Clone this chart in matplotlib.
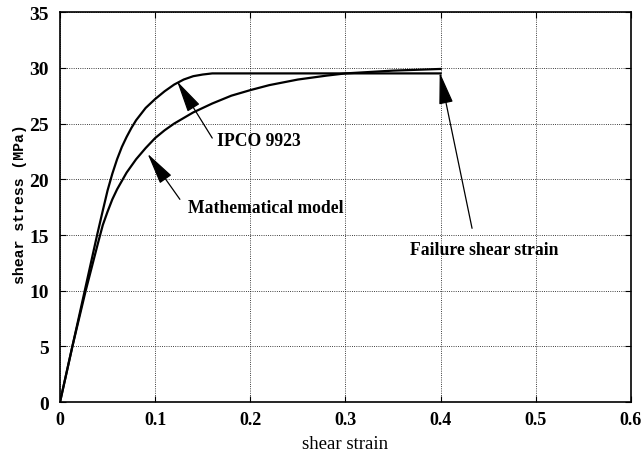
import matplotlib
matplotlib.use("Agg")
import matplotlib.pyplot as plt

# IPCO 9923 test curve
ipco_strain = [0.0, 0.013, 0.026, 0.039, 0.045, 0.05, 0.055, 0.06, 0.065, 0.07, 0.075,
               0.08, 0.09, 0.1, 0.11, 0.12, 0.13, 0.14, 0.15, 0.16, 0.2, 0.3, 0.4]
ipco_stress = [0.0, 5.0, 10.0, 15.0, 17.2, 19.0, 20.5, 21.8, 22.9, 23.8, 24.6,
               25.3, 26.4, 27.2, 27.9, 28.5, 28.95, 29.25, 29.4, 29.5, 29.5, 29.5, 29.5]

# mathematical model curve
model_strain = [0.0, 0.013, 0.027, 0.04, 0.045, 0.05, 0.055, 0.06, 0.07, 0.08, 0.09,
                0.1, 0.11, 0.12, 0.14, 0.16, 0.18, 0.2, 0.22, 0.25, 0.28, 0.3, 0.35, 0.4]
model_stress = [0.0, 5.0, 10.0, 14.3, 15.9, 17.1, 18.2, 19.1, 20.6, 21.8, 22.8,
                23.7, 24.4, 25.0, 26.0, 26.8, 27.5, 28.0, 28.45, 28.95, 29.3, 29.5, 29.75, 29.9]

xticks = [0, 0.1, 0.2, 0.3, 0.4, 0.5, 0.6]
xticklabels = ['0', '0.1', '0.2', '0.3', '0.4', '0.5', '0.6']
yticks = [0, 5, 10, 15, 20, 25, 30, 35]

fig = plt.figure(figsize=(6.43, 4.52), dpi=100)
ax = fig.add_axes([0.0933, 0.108, 0.888, 0.863])

ax.plot(ipco_strain, ipco_stress, color='black', lw=1.6)
ax.plot(model_strain, model_stress, color='black', lw=1.6)

ax.set_xlim(0, 0.6)
ax.set_ylim(0, 35)
ax.set_xticks(xticks)
ax.set_yticks(yticks)
ax.set_xticklabels(xticklabels)
ax.grid(True, color='black', linestyle=':', linewidth=0.6)
ax.tick_params(direction='in', length=4, right=True, top=True)
ax.tick_params(axis='x', pad=6, labelsize=13)
ax.tick_params(axis='y', pad=8, labelsize=14)
for lab in ax.get_xticklabels() + ax.get_yticklabels():
    lab.set_fontfamily('Liberation Serif')
    lab.set_fontweight('bold')
for s in ax.spines.values():
    s.set_linewidth(1.2)

ax.set_xlabel('shear strain', fontfamily='Liberation Serif', fontsize=13.5)
ax.xaxis.set_label_coords(0.5, -0.085)
ax.set_ylabel('shear stress (MPa)', fontfamily='Liberation Mono', fontweight='bold',
              fontsize=10.7)
ax.yaxis.set_label_coords(-0.057, 0.51)

arrow = dict(arrowstyle='-|>,head_length=1.0,head_width=0.22', color='black',
             lw=0.9, mutation_scale=20, shrinkA=0, shrinkB=0)
txt = dict(fontfamily='Liberation Serif', fontweight='bold', fontsize=12.7)

# labels with arrows pointing at the curves
ax.annotate('', xy=(0.123, 28.8), xytext=(0.16, 23.7), arrowprops=arrow)
ax.text(0.165, 23.5, 'IPCO 9923', va='center', ha='left', **txt)
ax.annotate('', xy=(0.092, 22.3), xytext=(0.126, 18.2), arrowprops=arrow)
ax.text(0.134, 17.5, 'Mathematical model', va='center', ha='left', **txt)
ax.annotate('', xy=(0.399, 29.6), xytext=(0.433, 15.6), arrowprops=arrow)
ax.text(0.368, 13.7, 'Failure shear strain', va='center', ha='left', **txt)

fig.savefig('out.png', dpi=100)
